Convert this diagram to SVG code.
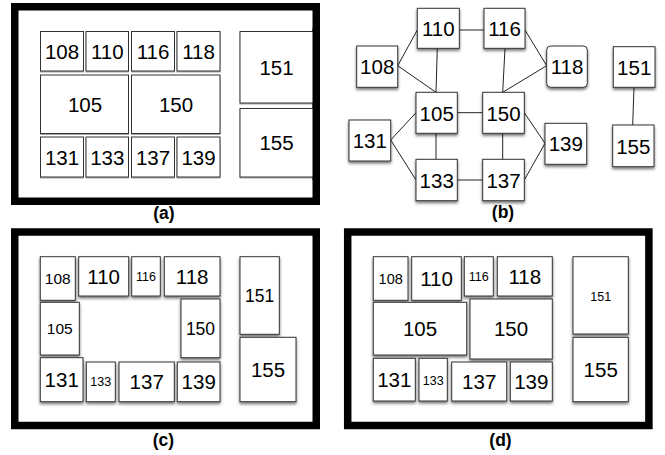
<svg xmlns="http://www.w3.org/2000/svg" width="665" height="455" viewBox="0 0 665 455">
<defs>
<filter id="sh" x="-20%" y="-20%" width="140%" height="150%">
<feDropShadow dx="0" dy="2" stdDeviation="1.6" flood-color="#000" flood-opacity="0.55"/>
</filter>
<filter id="sha" x="-20%" y="-20%" width="140%" height="150%">
<feDropShadow dx="0" dy="1" stdDeviation="0.6" flood-color="#000" flood-opacity="0.35"/>
</filter>
</defs>
<style>
.frame{fill:#fff;stroke:#000;stroke-width:7.5}
.bx{fill:#fff;stroke:#333;stroke-width:1}
.a .bx{filter:url(#sha)}
.s .bx{filter:url(#sh)}
text{font-family:"Liberation Sans",Arial,Helvetica,sans-serif;text-anchor:middle;fill:#000}
.t20{font-size:20.5px}
.t17{font-size:17.5px}
.t15{font-size:15.5px}
.t14{font-size:14.5px}
.t12{font-size:12.5px}
.lbl{font-size:17.5px;font-weight:bold}
.edge{stroke:#222;stroke-width:1;fill:none}
</style>
<rect width="665" height="455" fill="#fff"/>

<!-- Panel (a) -->
<g id="panel-a" class="a">
<rect class="frame" x="14.75" y="6.75" width="301.5" height="194.5"/>
<g id="a108"><rect class="bx" x="40.5" y="31.5" width="43" height="39.5"/><text class="t20" x="62" y="58.5">108</text></g>
<g id="a110"><rect class="bx" x="86" y="31.5" width="42.5" height="39.5"/><text class="t20" x="107.3" y="58.5">110</text></g>
<g id="a116"><rect class="bx" x="131.5" y="31.5" width="43" height="39.5"/><text class="t20" x="153" y="58.5">116</text></g>
<g id="a118"><rect class="bx" x="177" y="31.5" width="43" height="39.5"/><text class="t20" x="198.5" y="58.5">118</text></g>
<g id="a105"><rect class="bx" x="40.5" y="75" width="88" height="58.5"/><text class="t20" x="85" y="111.5">105</text></g>
<g id="a150"><rect class="bx" x="131.5" y="75" width="88.5" height="58.5"/><text class="t20" x="176" y="111.5">150</text></g>
<g id="a131"><rect class="bx" x="40.5" y="137" width="43" height="40"/><text class="t20" x="62" y="164.5">131</text></g>
<g id="a133"><rect class="bx" x="86" y="137" width="42.5" height="40"/><text class="t20" x="107.3" y="164.5">133</text></g>
<g id="a137"><rect class="bx" x="131.5" y="137" width="43" height="40"/><text class="t20" x="153" y="164.5">137</text></g>
<g id="a139"><rect class="bx" x="177" y="137" width="43" height="40"/><text class="t20" x="198.5" y="164.5">139</text></g>
<g id="a151"><rect class="bx" x="240" y="31.5" width="74" height="71.5"/><text class="t20" x="276.5" y="75">151</text></g>
<g id="a155"><rect class="bx" x="240" y="108.5" width="74" height="68.5"/><text class="t20" x="276.5" y="150">155</text></g>
<rect x="312.5" y="28" width="3" height="152" fill="#000"/>
<text class="lbl" x="164" y="219">(a)</text>
</g>

<!-- Panel (b) -->
<g id="connectors-b">
<line class="edge" x1="459.3" y1="30" x2="484" y2="30"/>
<line class="edge" x1="397.7" y1="65.7" x2="417.3" y2="30"/>
<line class="edge" x1="397.7" y1="65.7" x2="436" y2="92.3"/>
<line class="edge" x1="437.3" y1="48.3" x2="436" y2="92.3"/>
<line class="edge" x1="505" y1="48.3" x2="502.7" y2="92.3"/>
<line class="edge" x1="525" y1="30" x2="546.7" y2="65.7"/>
<line class="edge" x1="546.7" y1="65.7" x2="502.7" y2="92.3"/>
<line class="edge" x1="457.3" y1="112.7" x2="482.7" y2="112.7"/>
<line class="edge" x1="390.7" y1="140" x2="416" y2="112.7"/>
<line class="edge" x1="390.7" y1="140" x2="416" y2="180"/>
<line class="edge" x1="436" y1="133.3" x2="436" y2="159.3"/>
<line class="edge" x1="502.7" y1="133.3" x2="502.7" y2="159.3"/>
<line class="edge" x1="457.3" y1="180" x2="482.7" y2="180"/>
<line class="edge" x1="524.3" y1="112.7" x2="545" y2="143.3"/>
<line class="edge" x1="545" y1="143.3" x2="524.3" y2="180"/>
<line class="edge" x1="634" y1="87.3" x2="632.7" y2="125"/>
</g>
<g id="panel-b" class="s">
<g id="b110"><rect class="bx" x="417.3" y="8.3" width="42" height="40"/><text class="t20" x="438.3" y="36">110</text></g>
<g id="b116"><rect class="bx" x="484" y="8.3" width="41" height="40"/><text class="t20" x="504.5" y="36">116</text></g>
<g id="b108"><rect class="bx" x="356.7" y="46" width="41" height="41.3"/><text class="t20" x="377.2" y="74">108</text></g>
<g id="b118"><rect class="bx" x="546.7" y="46" width="40.6" height="41.3" rx="4"/><text class="t20" x="567" y="74">118</text></g>
<g id="b151"><rect class="bx" x="613.3" y="46.7" width="41.7" height="40.6"/><text class="t20" x="634.2" y="74.5">151</text></g>
<g id="b105"><rect class="bx" x="416" y="92.3" width="41.3" height="41"/><text class="t20" x="436.7" y="120.5">105</text></g>
<g id="b150"><rect class="bx" x="482.7" y="92.3" width="41.6" height="41"/><text class="t20" x="503.5" y="120.5">150</text></g>
<g id="b131"><rect class="bx" x="349" y="120" width="41.7" height="41"/><text class="t20" x="369.8" y="148">131</text></g>
<g id="b139"><rect class="bx" x="545" y="123.3" width="41.7" height="41"/><text class="t20" x="565.8" y="151">139</text></g>
<g id="b155"><rect class="bx" x="612.7" y="125" width="41.3" height="41.7"/><text class="t20" x="633.3" y="153.5">155</text></g>
<g id="b133"><rect class="bx" x="416" y="159.3" width="41.3" height="41.4"/><text class="t20" x="436.7" y="187.5">133</text></g>
<g id="b137"><rect class="bx" x="482.7" y="159.3" width="41.6" height="41.4"/><text class="t20" x="503.5" y="187.5">137</text></g>
<text class="lbl" x="503" y="217.5">(b)</text>
</g>

<!-- Panel (c) -->
<g id="panel-c" class="s">
<rect class="frame" x="14.75" y="232" width="301.5" height="193.5"/>
<g id="c108"><rect class="bx" x="40.3" y="256.7" width="35" height="43.6"/><text class="t15" x="57.8" y="284">108</text></g>
<g id="c110"><rect class="bx" x="78.7" y="256.7" width="50" height="39.3"/><text class="t20" x="103.7" y="284">110</text></g>
<g id="c116"><rect class="bx" x="131.7" y="256.7" width="28.6" height="39.3"/><text class="t12" x="146" y="280.5">116</text></g>
<g id="c118"><rect class="bx" x="164.3" y="256.7" width="55.7" height="39.3"/><text class="t20" x="192.2" y="284">118</text></g>
<g id="c105"><rect class="bx" x="40.3" y="302.3" width="39" height="52.7"/><text class="t15" x="59.8" y="334">105</text></g>
<g id="c150"><rect class="bx" x="181" y="299" width="39" height="58.7"/><text class="t17" x="200.5" y="334.5">150</text></g>
<g id="c131"><rect class="bx" x="40.3" y="357.7" width="42.7" height="44"/><text class="t20" x="61.7" y="387">131</text></g>
<g id="c133"><rect class="bx" x="86.3" y="362" width="29" height="39.7"/><text class="t12" x="100.8" y="386">133</text></g>
<g id="c137"><rect class="bx" x="119" y="362" width="55.3" height="39.7"/><text class="t20" x="146.7" y="389">137</text></g>
<g id="c139"><rect class="bx" x="177.3" y="362" width="42.7" height="39.7"/><text class="t20" x="198.7" y="389">139</text></g>
<g id="c151"><rect class="bx" x="240" y="256.7" width="39.3" height="77.6"/><text class="t17" x="259.7" y="302">151</text></g>
<g id="c155"><rect class="bx" x="240" y="337.3" width="56" height="64.4"/><text class="t20" x="268" y="377">155</text></g>
<text class="lbl" x="163.5" y="446">(c)</text>
</g>

<!-- Panel (d) -->
<g id="panel-d" class="s">
<rect class="frame" x="347.7" y="232" width="301.2" height="193.5"/>
<g id="d108"><rect class="bx" x="373.3" y="256.7" width="34.7" height="43.6"/><text class="t14" x="390.7" y="284">108</text></g>
<g id="d110"><rect class="bx" x="411.7" y="256.7" width="49.6" height="43.6"/><text class="t20" x="436.5" y="286">110</text></g>
<g id="d116"><rect class="bx" x="464.3" y="256.7" width="29" height="39.3"/><text class="t12" x="478.8" y="281">116</text></g>
<g id="d118"><rect class="bx" x="497.3" y="256.7" width="55" height="39.3"/><text class="t20" x="524.8" y="283.5">118</text></g>
<g id="d105"><rect class="bx" x="373.3" y="302.3" width="93.4" height="52.7"/><text class="t20" x="420" y="335.5">105</text></g>
<g id="d150"><rect class="bx" x="470" y="299" width="82.3" height="60"/><text class="t20" x="511" y="335.5">150</text></g>
<g id="d131"><rect class="bx" x="373.3" y="358.3" width="42" height="42.7"/><text class="t20" x="394.3" y="387">131</text></g>
<g id="d133"><rect class="bx" x="419" y="358.3" width="28.3" height="42.7"/><text class="t12" x="433.2" y="384.5">133</text></g>
<g id="d137"><rect class="bx" x="451.7" y="362" width="55" height="39"/><text class="t20" x="479.2" y="389">137</text></g>
<g id="d139"><rect class="bx" x="510.3" y="362" width="42" height="39"/><text class="t20" x="531.3" y="389">139</text></g>
<g id="d151"><rect class="bx" x="573" y="256.7" width="55.3" height="77.3"/><text class="t12" x="600.7" y="300.5">151</text></g>
<g id="d155"><rect class="bx" x="573" y="337.3" width="55.3" height="64.4"/><text class="t20" x="600.7" y="377">155</text></g>
<text class="lbl" x="500.5" y="446">(d)</text>
</g>
</svg>
